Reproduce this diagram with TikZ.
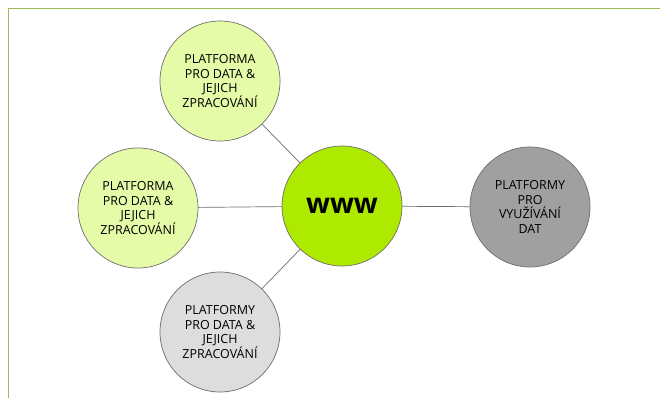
\documentclass[tikz,border=0pt]{standalone}
\usepackage{fontspec}
\setmainfont{Open Sans}
\definecolor{framegreen}{HTML}{9BBB59}
\definecolor{lightgreen}{HTML}{E6FBA8}
\definecolor{webgreen}{HTML}{AEEA00}
\definecolor{darkgray}{HTML}{A0A0A0}
\definecolor{palegray}{HTML}{DDDDDD}
\definecolor{edgegray}{HTML}{6E6E6E}
\begin{document}
\begin{tikzpicture}[
    x=1pt, y=-1pt,
    every node/.style={circle, draw=edgegray, line width=0.7pt, align=center, inner sep=0pt, minimum size=120pt, text=black, font=\fontsize{12.5}{14.8}\selectfont},
    data/.style={fill=lightgreen},
    dataalt/.style={fill=palegray},
    use/.style={fill=darkgray},
    hub/.style={fill=webgreen, font=\fontsize{28}{32}\selectfont\bfseries},
    link/.style={draw=edgegray, line width=0.7pt}
]
    \useasboundingbox (0,0) rectangle (660,398);
    \draw[framegreen, line width=1.5pt] (8.5,398) -- (8.5,8.5) -- (660,8.5);

    \node[hub] (www) at (342, 206) {www};
    \node[data] (d1) at (220, 81) {PLATFORMA\\PRO DATA \&\\JEJICH\\ZPRACOVÁNÍ};
    \node[data] (d2) at (138, 208) {PLATFORMA\\PRO DATA \&\\JEJICH\\ZPRACOVÁNÍ};
    \node[dataalt] (d3) at (220, 332) {PLATFORMY\\PRO DATA \&\\JEJICH\\ZPRACOVÁNÍ};
    \node[use] (vyuz) at (530, 207) {PLATFORMY\\PRO\\VYUŽÍVÁNÍ\\DAT};

    \draw[link] (d1) -- (www);
    \draw[link] (d2) -- (www);
    \draw[link] (d3) -- (www);
    \draw[link] (www) -- (vyuz);
\end{tikzpicture}
\end{document}
